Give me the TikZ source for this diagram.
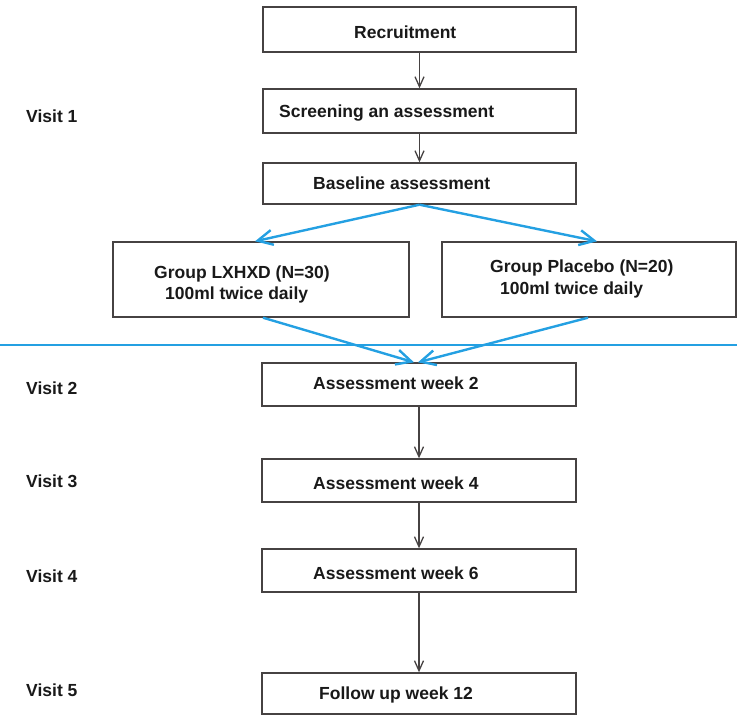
\documentclass[tikz,border=0pt]{standalone}
\usepackage{fontspec}
\setmainfont{Liberation Sans}
\usetikzlibrary{arrows.meta}
\definecolor{boxgray}{RGB}{70,66,66}
\definecolor{flowblue}{RGB}{36,160,226}
\tikzset{
  box/.style={draw=boxgray, line width=1.4pt, rectangle, inner sep=0pt, fill=white},
  txt/.style={anchor=west, inner sep=0pt, font=\bfseries\fontsize{17.5}{20}\selectfont, text=black!90},
  blackarrow/.style={draw=boxgray, line width=1.3pt, -{Straight Barb[length=10pt,width=9pt,line width=1.3pt]}},
  bluearrow/.style={draw=flowblue, line width=2.4pt, -{Straight Barb[length=15pt,width=15pt,line width=2.4pt]}},
  blueline/.style={draw=flowblue, line width=2.2pt}
}
\begin{document}
\begin{tikzpicture}[x=1pt,y=-1pt]
\useasboundingbox (0,0) rectangle (737,715);

% boxes
\node[box, minimum width=313pt, minimum height=45pt] (rec) at (419.5,29.5) {};
\node[box, minimum width=313pt, minimum height=44pt] (scr) at (419.5,111) {};
\node[box, minimum width=313pt, minimum height=41pt] (base) at (419.5,183.5) {};
\node[box, minimum width=296pt, minimum height=75pt] (lx) at (261,279.5) {};
\node[box, minimum width=294pt, minimum height=75pt] (pl) at (589,279.5) {};
\node[box, minimum width=314pt, minimum height=43pt] (w2) at (419,384.5) {};
\node[box, minimum width=314pt, minimum height=43pt] (w4) at (419,480.5) {};
\node[box, minimum width=314pt, minimum height=43pt] (w6) at (419,570.5) {};
\node[box, minimum width=314pt, minimum height=41pt] (fu) at (419,693.5) {};

% texts
\node[txt] (trec) at (354,32) {Recruitment};
\node[txt] (tscr) at (279,113) {Screening an assessment};
\node[txt] (tbase) at (313,183) {Baseline assessment};
\node[txt] (tlx1) at (154,274) {Group LXHXD (N=30)};
\node[txt] (tlx2) at (165,295) {100ml twice daily};
\node[txt] (tpl1) at (490,268) {Group Placebo (N=20)};
\node[txt] (tpl2) at (500,290) {100ml twice daily};
\node[txt] (tw2) at (313,383) {Assessment week 2};
\node[txt] (tw4) at (313,483) {Assessment week 4};
\node[txt] (tw6) at (313,573) {Assessment week 6};
\node[txt] (tfu) at (319,695) {Follow up week 12};

\node[txt] (v1) at (26,116) {Visit 1};
\node[txt] (v2) at (26,388) {Visit 2};
\node[txt] (v3) at (26,481) {Visit 3};
\node[txt] (v4) at (26,576) {Visit 4};
\node[txt] (v5) at (26,690) {Visit 5};

% black arrows
\draw[blackarrow] (rec.south) -- (scr.north);
\draw[blackarrow] (scr.south) -- (base.north);
\draw[blackarrow] (w2.south) -- (w4.north);
\draw[blackarrow] (w4.south) -- (w6.north);
\draw[blackarrow] (w6.south) -- (fu.north);

% blue separator
\coordinate (sepL) at (0,345);
\coordinate (sepR) at (737,345);
\draw[blueline] (sepL) -- (sepR);

% blue arrows
\draw[bluearrow] (base.south) -- ([xshift=-6pt]lx.north);
\draw[bluearrow] (base.south) -- ([xshift=8pt]pl.north);
\draw[bluearrow] ([xshift=2pt]lx.south) -- ([xshift=-5pt]w2.north);
\draw[bluearrow] ([xshift=-1pt]pl.south) -- ([xshift=-1pt]w2.north);
\end{tikzpicture}
\end{document}
